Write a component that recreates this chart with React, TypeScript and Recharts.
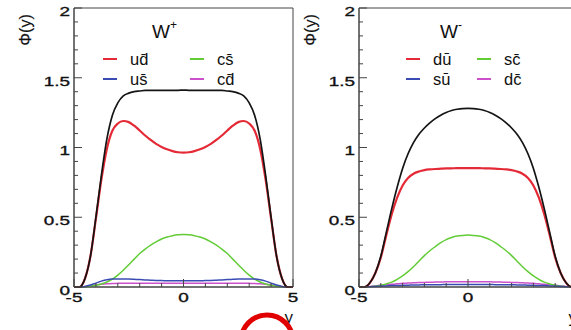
import { Legend, Line, LineChart, ReferenceArea, XAxis, YAxis } from "recharts";

// rapidity grid shared by both panels
const rapidity = [
  -5, -4.75, -4.5, -4.25, -4, -3.75, -3.5, -3.25, -3, -2.75, -2.5, -2.25, -2, -1.75, -1.5, -1.25, -1, -0.75, -0.5, -0.25,
  0, 0.25, 0.5, 0.75, 1, 1.25, 1.5, 1.75, 2, 2.25, 2.5, 2.75, 3, 3.25, 3.5, 3.75, 4, 4.25, 4.5, 4.75, 5,
];

// W+ panel
const wPlusTotal = [
  0, 0, 0.06, 0.22, 0.5, 0.8, 1.06, 1.23, 1.32, 1.37, 1.39, 1.4, 1.405, 1.41, 1.41, 1.41, 1.41, 1.41, 1.41, 1.41,
  1.412, 1.41, 1.41, 1.41, 1.41, 1.41, 1.41, 1.41, 1.405, 1.4, 1.39, 1.37, 1.32, 1.23, 1.06, 0.8, 0.5, 0.22, 0.06, 0, 0,
];
const wPlusUd = [
  0, 0, 0.06, 0.22, 0.49, 0.77, 0.99, 1.12, 1.172, 1.19, 1.182, 1.156, 1.122, 1.086, 1.054, 1.026, 1.004, 0.987, 0.974, 0.966,
  0.963, 0.966, 0.974, 0.987, 1.004, 1.026, 1.054, 1.086, 1.122, 1.156, 1.182, 1.19, 1.172, 1.12, 0.99, 0.77, 0.49, 0.22, 0.06, 0, 0,
];
const wPlusUs = [
  0, 0, 0.004, 0.014, 0.028, 0.042, 0.052, 0.057, 0.058, 0.058, 0.057, 0.055, 0.053, 0.051, 0.049, 0.047, 0.046, 0.045, 0.044, 0.044,
  0.044, 0.044, 0.044, 0.045, 0.046, 0.047, 0.049, 0.051, 0.053, 0.055, 0.057, 0.058, 0.058, 0.057, 0.052, 0.042, 0.028, 0.014, 0.004, 0, 0,
];
const wPlusCs = [
  0, 0, 0.002, 0.006, 0.012, 0.022, 0.036, 0.056, 0.085, 0.12, 0.16, 0.2, 0.24, 0.272, 0.3, 0.324, 0.344, 0.358, 0.368, 0.374,
  0.376, 0.374, 0.368, 0.358, 0.344, 0.324, 0.3, 0.272, 0.24, 0.2, 0.16, 0.12, 0.085, 0.056, 0.036, 0.022, 0.012, 0.006, 0.002, 0, 0,
];
const wPlusCd = [
  0, 0, 0.003, 0.008, 0.014, 0.019, 0.023, 0.025, 0.026, 0.027, 0.027, 0.027, 0.027, 0.027, 0.027, 0.027, 0.027, 0.027, 0.027, 0.027,
  0.027, 0.027, 0.027, 0.027, 0.027, 0.027, 0.027, 0.027, 0.027, 0.027, 0.027, 0.027, 0.026, 0.025, 0.023, 0.019, 0.014, 0.008, 0.003, 0, 0,
];

// W- panel
const wMinusTotal = [
  0, 0, 0.03, 0.1, 0.22, 0.39, 0.56, 0.715, 0.85, 0.955, 1.035, 1.095, 1.14, 1.177, 1.207, 1.232, 1.251, 1.265, 1.274, 1.279,
  1.28, 1.279, 1.274, 1.265, 1.251, 1.232, 1.207, 1.177, 1.14, 1.095, 1.035, 0.955, 0.85, 0.715, 0.56, 0.39, 0.22, 0.1, 0.03, 0, 0,
];
const wMinusDu = [
  0, 0, 0.03, 0.1, 0.21, 0.37, 0.52, 0.64, 0.728, 0.782, 0.812, 0.828, 0.838, 0.843, 0.846, 0.848, 0.85, 0.851, 0.852, 0.852,
  0.852, 0.852, 0.852, 0.851, 0.85, 0.848, 0.846, 0.843, 0.838, 0.828, 0.812, 0.782, 0.728, 0.64, 0.52, 0.37, 0.21, 0.1, 0.03, 0, 0,
];
const wMinusSu = [
  0, 0, 0.002, 0.004, 0.006, 0.008, 0.01, 0.011, 0.012, 0.013, 0.014, 0.015, 0.016, 0.016, 0.017, 0.017, 0.018, 0.018, 0.018, 0.018,
  0.018, 0.018, 0.018, 0.018, 0.018, 0.017, 0.017, 0.016, 0.016, 0.015, 0.014, 0.013, 0.012, 0.011, 0.01, 0.008, 0.006, 0.004, 0.002, 0, 0,
];
const wMinusSc = [
  0, 0, 0.002, 0.006, 0.012, 0.022, 0.035, 0.055, 0.08, 0.11, 0.145, 0.185, 0.225, 0.26, 0.29, 0.318, 0.34, 0.355, 0.365, 0.37,
  0.372, 0.37, 0.365, 0.355, 0.34, 0.318, 0.29, 0.26, 0.225, 0.185, 0.145, 0.11, 0.08, 0.055, 0.035, 0.022, 0.012, 0.006, 0.002, 0, 0,
];
const wMinusDc = [
  0, 0, 0.004, 0.008, 0.012, 0.016, 0.02, 0.023, 0.026, 0.028, 0.03, 0.032, 0.033, 0.034, 0.035, 0.036, 0.037, 0.037, 0.038, 0.038,
  0.038, 0.038, 0.038, 0.037, 0.037, 0.036, 0.035, 0.034, 0.033, 0.032, 0.03, 0.028, 0.026, 0.023, 0.02, 0.016, 0.012, 0.008, 0.004, 0, 0,
];

const wPlusNames = ["ud\u0304", "us\u0304", "cs\u0304", "cd\u0304"];
const wMinusNames = ["du\u0304", "su\u0304", "sc\u0304", "dc\u0304"];

const xTicks = [-5, -4, -3, -2, -1, 0, 1, 2, 3, 4, 5];
const xLabels = [-5, 0, 5];
const yTicks = [0, 0.1, 0.2, 0.3, 0.4, 0.5, 0.6, 0.7, 0.8, 0.9, 1, 1.1, 1.2, 1.3, 1.4, 1.5, 1.6, 1.7, 1.8, 1.9, 2];
const yLabels = [0, 0.5, 1, 1.5, 2];

const RED = "#e42a36";
const BLUE = "#3a4cb4";
const GREEN = "#62cc36";
const MAGENTA = "#cc50cc";
const BLACK = "#141414";
const FRAME = "#444";
const FONT = "'Liberation Sans', Arial, sans-serif";

function XTick({ x, y, payload }: any) {
  const v = payload.value;
  const major = xLabels.includes(v);
  return (
    <g>
      <line x1={x} x2={x} y1={y} y2={y - (major ? 8 : 4)} stroke={FRAME} />
      {major && (
        <text transform={`translate(${x},${y + 10}) scale(1.4,1)`} textAnchor="middle" dominantBaseline="central" fontSize={13.5} fill="#111" stroke="#111" strokeWidth={0.35} fontFamily={FONT}>
          {String(v)}
        </text>
      )}
    </g>
  );
}

function YTick({ x, y, payload }: any) {
  const v = payload.value;
  const major = yLabels.includes(v);
  return (
    <g>
      <line x1={x} x2={x + (major ? 8 : 4)} y1={y} y2={y} stroke={FRAME} />
      {major && (
        <text transform={`translate(${x - 4},${y + 3}) scale(1.4,1)`} textAnchor="end" dominantBaseline="central" fontSize={13.5} fill="#111" stroke="#111" strokeWidth={0.35} fontFamily={FONT}>
          {String(v)}
        </text>
      )}
    </g>
  );
}

function PhiLabel({ viewBox }: any) {
  return (
    <text transform={`translate(${viewBox.x + 25},${viewBox.y + 22}) rotate(-90)`} textAnchor="middle" dominantBaseline="central" fontSize={16} fill="#111" stroke="#111" strokeWidth={0.2} fontFamily={FONT}>
      Φ(y)
    </text>
  );
}

function RapidityLabel({ viewBox }: any) {
  return (
    <text x={viewBox.x + viewBox.width} y={viewBox.y + 36} textAnchor="end" fontSize={17} fill="#111" fontFamily={FONT}>
      y
    </text>
  );
}

function PanelLegend({ payload, sign, titleX, col1X, col2X }: any) {
  const byKey: Record<string, any> = {};
  (payload ?? []).forEach((p: any) => (byKey[p.dataKey] = p));
  const slots: [string, number, number][] = [
    ["q1", col1X, 0],
    ["q3", col2X, 0],
    ["q2", col1X, 1],
    ["q4", col2X, 1],
  ];
  return (
    <svg width={300} height={100} style={{ display: "block" }} fontFamily={FONT}>
      <text x={titleX} y={38} fontSize={19} fill="#111">
        W<tspan dy={-9} fontSize={12}>{sign}</tspan>
      </text>
      {slots.map(([key, x, row]) => {
        const item = byKey[key];
        if (!item) return null;
        const cy = 59 + row * 20;
        return (
          <g key={key}>
            <line x1={x} x2={x + 14} y1={cy} y2={cy} stroke={item.color} strokeWidth={2} />
            <text x={x + 27} y={cy + 6} fontSize={16.5} fill="#111">
              {item.value}
            </text>
          </g>
        );
      })}
    </svg>
  );
}

function Panel({ total, q1, q2, q3, q4, names, sign, titleX, col1X, col2X, right }: any) {
  const data = rapidity.map((r, i) => ({ rap: r, total: total[i], q1: q1[i], q2: q2[i], q3: q3[i], q4: q4[i] }));
  return (
    <LineChart width={300} height={330} data={data} margin={{ top: 8, right: right, left: 0, bottom: 0 }}>
      <XAxis
        dataKey="rap"
        type="number"
        domain={[-5, 5]}
        ticks={xTicks}
        interval={0}
        tickSize={0}
        tickMargin={0}
        height={43}
        axisLine={{ stroke: FRAME }}
        tickLine={false}
        tick={<XTick />}
        label={<RapidityLabel />}
      />
      <YAxis
        type="number"
        domain={[0, 2]}
        ticks={yTicks}
        interval={0}
        tickSize={0}
        tickMargin={0}
        width={74}
        axisLine={{ stroke: FRAME }}
        tickLine={false}
        tick={<YTick />}
        label={<PhiLabel />}
      />
      <ReferenceArea x1={-5} x2={5} y1={0} y2={2} fill="none" stroke={FRAME} strokeWidth={1} ifOverflow="visible" />
      <Legend
        layout="vertical"
        align="center"
        verticalAlign="middle"
        wrapperStyle={{ left: 0, top: 0, width: 300, height: 100 }}
        content={(props: any) => <PanelLegend {...props} sign={sign} titleX={titleX} col1X={col1X} col2X={col2X} />}
      />
      <Line dataKey="q4" name={names[3]} type="monotone" stroke={MAGENTA} strokeWidth={1.5} dot={false} isAnimationActive={false} />
      <Line dataKey="q3" name={names[2]} type="monotone" stroke={GREEN} strokeWidth={1.5} dot={false} isAnimationActive={false} />
      <Line dataKey="q2" name={names[1]} type="monotone" stroke={BLUE} strokeWidth={1.5} dot={false} isAnimationActive={false} />
      <Line dataKey="q1" name={names[0]} type="monotone" stroke={RED} strokeWidth={2.2} dot={false} isAnimationActive={false} />
      <Line dataKey="total" name="total" legendType="none" type="monotone" stroke={BLACK} strokeWidth={1.7} dot={false} isAnimationActive={false} />
    </LineChart>
  );
}

export default function App() {
  return (
    <div style={{ position: "fixed", left: 0, top: 0, width: 571, height: 330, overflow: "hidden", background: "#fff", fontFamily: FONT }}>
      <div style={{ position: "absolute", left: 0, top: 0 }}>
        <Panel total={wPlusTotal} q1={wPlusUd} q2={wPlusUs} q3={wPlusCs} q4={wPlusCd} names={wPlusNames} sign="+" titleX={152} col1X={103} col2X={190} right={7} />
      </div>
      <div style={{ position: "absolute", left: 285, top: 0 }}>
        <Panel total={wMinusTotal} q1={wMinusDu} q2={wMinusSu} q3={wMinusSc} q4={wMinusDc} names={wMinusNames} sign="-" titleX={155} col1X={121} col2X={192} right={8} />
      </div>
      <svg width={571} height={330} style={{ position: "absolute", left: 0, top: 0, pointerEvents: "none" }}>
        <circle cx={267} cy={341} r={26} fill="none" stroke="#e00000" strokeWidth={5} />
      </svg>
    </div>
  );
}
